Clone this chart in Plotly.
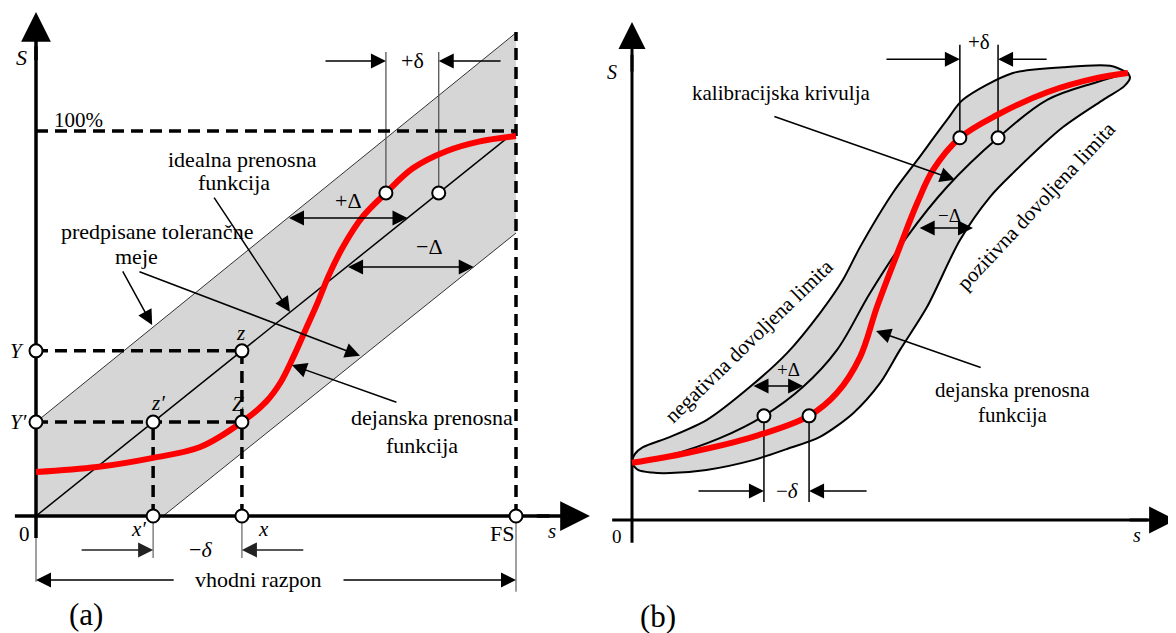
import plotly.graph_objects as go

# ---------------- Panel (a) data (s in % of FS, S in % of full output) -----
A_ideal_s = [0, 100]
A_ideal_S = [0, 100]
A_red_s = [0, 12.7, 24.4, 34.2, 42.9, 48.1, 51.0, 53.5, 56.2, 58.7, 61.0, 64.0, 68.1, 72.9, 78.5, 85.6, 92.5, 100]
A_red_S = [11.4, 12.7, 15.1, 17.9, 24.4, 29.9, 34.8, 41.0, 48.5, 55.5, 62.5, 70.0, 77.8, 83.9, 90.3, 94.8, 97.3, 98.7]
A_upper_s = [0, 100]
A_upper_S = [24.4, 125.5]
A_lower_s = [26.5, 100]
A_lower_S = [0, 73.5]
A_Y, A_Yp = 42.9, 24.4          # Y and Y'
A_x, A_xp = 42.9, 24.4          # x and x'
A_FS, A_full, A_top = 100, 100, 125.7
A_pts_s = [0, 0, 42.9, 24.4, 42.9, 24.4, 42.9, 100, 72.9, 83.9]
A_pts_S = [42.9, 24.4, 42.9, 24.4, 24.4, 0, 0, 0, 83.9, 83.9]

# ---------------- Panel (b) data ----------------
B_upper_s = [0, 0.6, 2.2, 7.7, 15.1, 23.8, 31.3, 37.9, 42.5, 46.0, 52.6, 57.5, 63.5, 66.7, 76.8, 86.9, 96.4, 100]
B_upper_S = [12.8, 14.8, 16.3, 18.6, 22.4, 29.8, 37.4, 46.3, 53.7, 61.1, 73.2, 80.5, 89.5, 94.0, 100.0, 101.3, 101.6, 100]
B_lower_s = [0, 1.2, 4.0, 7.7, 15.0, 24.4, 31.0, 37.9, 44.6, 50.0, 54.0, 59.5, 66.1, 72.2, 76.8, 86.9, 95.0, 99.2, 100.4, 100]
B_lower_S = [12.8, 11.2, 10.6, 10.5, 11.2, 13.4, 15.8, 18.6, 23.9, 30.6, 38.0, 47.7, 62.6, 72.3, 77.6, 87.9, 94.0, 97.0, 98.9, 100]
B_cal_s = [0, 7.7, 17.7, 26.6, 34.5, 41.3, 48.0, 55.4, 63.5, 73.8, 83.7, 93.8, 100]
B_cal_S = [12.8, 14.5, 18.3, 23.3, 29.8, 38.0, 50.8, 63.3, 74.5, 85.5, 94.0, 98.0, 100]
B_red_s = [0, 11.1, 24.4, 35.7, 41.3, 46.0, 49.4, 54.0, 57.5, 60.7, 66.1, 73.6, 83.7, 93.8, 100]
B_red_S = [12.8, 15.0, 18.6, 23.3, 28.4, 36.5, 47.7, 61.1, 70.9, 78.3, 85.5, 90.6, 95.7, 98.9, 100]
B_pts_s = [26.6, 35.7, 66.1, 73.8]
B_pts_S = [23.3, 23.3, 85.5, 85.5]

FONT = "Liberation Serif, Times New Roman, serif"
BAND = "#d6d6d6"
fig = go.Figure()


def line(xs, ys, ax="a", color="black", width=1.5, dash=None, shape="linear"):
    xr, yr = ("x", "y") if ax == "a" else ("x2", "y2")
    fig.add_trace(go.Scatter(x=xs, y=ys, mode="lines", xaxis=xr, yaxis=yr,
                             line=dict(color=color, width=width, dash=dash, shape=shape,
                                       smoothing=1.0 if shape == "spline" else None),
                             hoverinfo="skip", showlegend=False))


annots = []


def arrow(x, y, ax_, ay_, panel="a", width=1.5, size=2.0, both=False, color="black"):
    xr, yr = ("x", "y") if panel == "a" else ("x2", "y2")
    d = dict(x=x, y=y, ax=ax_, ay=ay_, xref=xr, yref=yr, axref=xr, ayref=yr,
             text="", showarrow=True, arrowhead=2, arrowsize=size, arrowwidth=width,
             arrowcolor=color, standoff=0, startstandoff=0)
    if both:
        d.update(arrowside="end+start", startarrowhead=2, startarrowsize=size)
    annots.append(d)


def txt(x, y, t, panel="a", size=22, angle=0, xanchor="center"):
    xr, yr = ("x", "y") if panel == "a" else ("x2", "y2")
    annots.append(dict(x=x, y=y, xref=xr, yref=yr, text=t, showarrow=False,
                       textangle=angle, xanchor=xanchor, yanchor="middle",
                       font=dict(family=FONT, size=size, color="black")))


# ================= Panel (a) =================
band_s = [0] + A_lower_s + A_upper_s[::-1]
band_S = [0] + A_lower_S + A_upper_S[::-1]
fig.add_trace(go.Scatter(x=band_s, y=band_S, mode="lines", fill="toself", fillcolor=BAND,
                         line=dict(width=0), xaxis="x", yaxis="y", hoverinfo="skip", showlegend=False))
line(A_upper_s, A_upper_S, width=1, color="#333333")
line(A_lower_s, A_lower_S, width=1, color="#333333")
line(A_ideal_s, A_ideal_S, width=1.5)

# extension (thin gray) lines
G = "#6e6e6e"
line([A_xp, A_xp], [0, -10.9], color=G, width=1.3)
line([A_x, A_x], [0, -10.9], color=G, width=1.3)
line([0, 0], [0, -17.1], color=G, width=1.3)
line([A_FS, A_FS], [0, -19.7], color=G, width=1.3)
line([72.9, 72.9], [83.9, 120.5], color="#555555", width=1.3)
line([83.9, 83.9], [83.9, 120.5], color="#555555", width=1.3)

# axes
line([-4.4, 107], [0, 0], width=3.5)
line([0, 0], [-5.7, 122], width=3.5)

# dashed lines
D = "12px,7px"
line([0, A_x], [A_Y, A_Y], width=3.5, dash=D)
line([0, A_x], [A_Yp, A_Yp], width=3.5, dash=D)
line([A_x, A_x], [0, A_Y], width=3.5, dash=D)
line([A_xp, A_xp], [0, A_Yp], width=3.5, dash=D)
line([0, A_FS], [A_full, A_full], width=3.5, dash=D)
line([A_FS, A_FS], [0, A_top], width=3.5, dash=D)

line(A_red_s, A_red_S, color="#ff0000", width=6, shape="spline")
fig.add_trace(go.Scatter(x=A_pts_s, y=A_pts_S, mode="markers", xaxis="x", yaxis="y",
                         marker=dict(size=13, color="white", line=dict(color="black", width=2)),
                         hoverinfo="skip", showlegend=False))

# axis arrowheads
arrow(0, 130.9, 0, 118, width=3.5, size=1.7)
arrow(115.4, 0, 104, 0, width=3.5, size=1.7)

# dimension arrows
arrow(72.9, 118.2, 60, 118.2)
arrow(83.9, 118.2, 97.1, 118.2)
arrow(77.4, 77.4, 52.4, 77.4, both=True)
arrow(91.2, 64.7, 64.7, 64.7, both=True)
arrow(A_xp, -8.8, 9.2, -8.8, color="#222")
arrow(A_x, -8.8, 56, -8.8, color="#222")
arrow(0, -16.6, 29, -16.6)
arrow(A_FS, -16.6, 63.75, -16.6)
# label pointers
arrow(52.9, 53.0, 36.9, 83.1)
arrow(24.2, 49.6, 17.9, 63.9)
arrow(67.5, 41.6, 21.25, 63.6)
arrow(53.3, 39.2, 75.4, 29.4)

# texts
txt(78.5, 118.4, "+δ")
txt(65, 82, "+Δ")
txt(82, 70, "−Δ")
txt(34.2, -8.8, "−<i>δ</i>")
txt(46.25, -16.6, "vhodni razpon")
txt(43.1, 92.5, "idealna prenosna")
txt(41.25, 86.5, "funkcija")
txt(25.2, 73.8, "predpisane tolerančne")
txt(21, 67.3, "meje")
txt(82.5, 25.5, "dejanska prenosna")
txt(80.4, 18.4, "funkcija")
txt(-3.1, 119, "<i>S</i>", size=22)
txt(8.75, 102.9, "100%", size=21)
txt(-4.0, A_Y, "<i>Y</i>", size=21)
txt(-3.75, A_Yp, "<i>Y′</i>", size=21)
txt(42.5, 47.6, "<i>z</i>", size=21)
txt(25.4, 29.4, "<i>z′</i>", size=21)
txt(42.1, 29.1, "<i>Z</i>", size=21)
txt(-2.3, -4.6, "0", size=21)
txt(21.25, -3.3, "<i>x′</i>", size=21)
txt(47.3, -3.3, "<i>x</i>", size=21)
txt(97.1, -4.6, "FS", size=22)
txt(107.5, -3.8, "<i>s</i>", size=21)
txt(10.4, -25.5, "(a)", size=31)

# ================= Panel (b) =================
bb_s = B_upper_s + B_lower_s[::-1]
bb_S = B_upper_S + B_lower_S[::-1]
fig.add_trace(go.Scatter(x=bb_s, y=bb_S, mode="lines", fill="toself", fillcolor=BAND,
                         line=dict(width=2, color="black", shape="spline", smoothing=0.8),
                         xaxis="x2", yaxis="y2", hoverinfo="skip", showlegend=False))
line(B_cal_s, B_cal_S, ax="b", width=2, shape="spline")
line([26.6, 26.6], [23.3, 4.0], ax="b", width=1.5)
line([35.7, 35.7], [23.3, 4.0], ax="b", width=1.5)
line([66.1, 66.1], [85.5, 106.3], ax="b", width=1.5)
line([73.8, 73.8], [85.5, 106.3], ax="b", width=1.5)
line([-4, 104], [0, 0], ax="b", width=3)
line([0, 0], [-5.1, 104], ax="b", width=3)
line(B_red_s, B_red_S, ax="b", color="#ff0000", width=6, shape="spline")
fig.add_trace(go.Scatter(x=B_pts_s, y=B_pts_S, mode="markers", xaxis="x2", yaxis="y2",
                         marker=dict(size=13, color="white", line=dict(color="black", width=2)),
                         hoverinfo="skip", showlegend=False))

arrow(0, 111.4, 0, 100, panel="b", width=3, size=1.8)
arrow(109.7, 0, 100, 0, panel="b", width=3, size=1.8)
arrow(66.1, 103.1, 51, 103.1, panel="b")
arrow(73.8, 103.1, 83.9, 103.1, panel="b")
arrow(26.6, 6.5, 13.1, 6.5, panel="b")
arrow(35.7, 6.5, 47.6, 6.5, panel="b")
arrow(34.5, 30.0, 24.2, 30.0, panel="b", both=True)
arrow(68.75, 65.3, 57.7, 65.3, panel="b", both=True)
arrow(65.1, 76.1, 28.4, 90.4, panel="b")
arrow(49.2, 42.3, 70.6, 34.0, panel="b")

txt(70, 106.9, "+δ", panel="b", size=21)
txt(31.25, 6.5, "−<i>δ</i>", panel="b", size=21)
txt(31.5, 33.6, "+Δ", panel="b", size=19)
txt(64.1, 68.2, "−Δ", panel="b", size=19)
txt(30.2, 95.5, "kalibracijska krivulja", panel="b", size=21)
txt(76.8, 29.1, "dejanska prenosna", panel="b", size=21)
txt(76.8, 23.5, "funkcija", panel="b", size=21)
txt(23.6, 40.0, "negativna dovoljena limita", panel="b", size=21, angle=-44)
txt(81.5, 70.2, "pozitivna dovoljena limita", panel="b", size=21, angle=-47)
txt(-4, 100.2, "<i>S</i>", panel="b", size=20)
txt(-3, -3.8, "0", panel="b", size=19)
txt(101.8, -3.4, "<i>s</i>", panel="b", size=20)
txt(5.2, -21.5, "(b)", panel="b", size=31)

# The page body has an 8px margin, so the figure is laid out to compensate.
W, H = 1176, 633
split = 592 / W
ax_common = dict(visible=False, showgrid=False, zeroline=False, fixedrange=True)
fig.update_layout(
    width=W, height=H, margin=dict(l=0, r=0, t=0, b=0),
    paper_bgcolor="white", plot_bgcolor="white", showlegend=False,
    xaxis=dict(domain=[0, split], range=[-5.833, 117.5], **ax_common),
    yaxis=dict(domain=[0, 1], range=[-32.468, 131.948], **ax_common),
    xaxis2=dict(domain=[split, 1], range=[-6.452, 111.29], **ax_common),
    yaxis2=dict(domain=[0, 1], range=[-27.07, 114.54], **ax_common),
    annotations=annots,
)
fig.write_html("out.html")
